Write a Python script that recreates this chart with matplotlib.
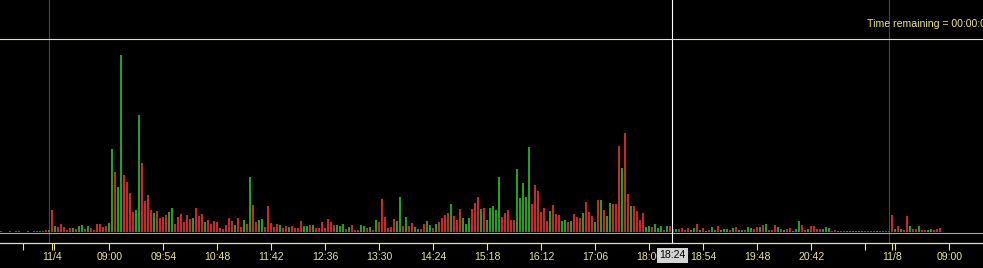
import numpy as np
import matplotlib
matplotlib.use("Agg")
import matplotlib.pyplot as plt
from matplotlib.patches import Rectangle

# 3-minute volume bars (one value per bar, left to right)
volume = [
    1, 0.5, 0.5, 1, 0.5, 1, 1, 0.5, 0, 1,          # 0
    0.5, 1, 1, 1, 1, 2, 2, 22, 6, 5,               # 10
    8, 5, 2, 4, 4, 3, 6, 7, 3, 6,                  # 20
    4, 2, 8, 8, 5, 6, 9, 83, 60, 45,               # 30
    177, 57, 50, 39, 20, 22, 117, 69, 31, 37,      # 40
    22, 19, 21, 14, 15, 17, 20, 24, 8, 15,         # 50
    18, 10, 17, 13, 14, 24, 16, 18, 10, 12,        # 60
    8, 11, 10, 4, 3, 7, 14, 11, 7, 14,             # 70
    5, 12, 8, 55, 27, 10, 12, 13, 5, 26,           # 80
    9, 5, 8, 7, 4, 6, 5, 6, 4, 4,                  # 90
    11, 6, 6, 7, 7, 4, 4, 10, 4, 13,               # 100
    10, 7, 7, 6, 8, 3, 5, 7, 2, 2,                 # 110
    7, 6, 4, 5, 2, 12, 10, 33, 15, 4,              # 120
    5, 13, 11, 35, 6, 15, 6, 9, 5, 3,              # 130
    3, 8, 11, 7, 4, 8, 10, 14, 17, 19,             # 140
    28, 16, 12, 23, 14, 8, 14, 23, 29, 35,         # 150
    23, 24, 12, 24, 26, 22, 55, 15, 19, 22,        # 160
    12, 12, 63, 34, 49, 35, 85, 28, 47, 41,        # 170
    20, 24, 11, 21, 27, 18, 17, 11, 12, 10,        # 180
    11, 18, 15, 14, 19, 30, 20, 16, 10, 32,        # 190
    32, 22, 16, 29, 28, 28, 86, 64, 99, 38,        # 200
    26, 26, 21, 12, 19, 5, 6, 5, 8, 4,             # 210
    6, 2, 6, 6, 3, 3, 3, 4, 2, 4,                  # 220
    2, 4, 8, 2, 4, 1, 2, 5, 2, 6,                  # 230
    2, 3, 3, 2, 4, 5, 2, 2, 2, 5,                  # 240
    4, 3, 5, 5, 7, 8, 2, 2, 7, 5,                  # 250
    3, 2, 3, 4, 1, 3, 11, 7, 2, 3,                 # 260
    6, 6, 3, 3, 3, 5, 4, 1, 2, 1,                  # 270
    1, 1, 1, 1, 1, 1, 1, 1, 1, 1,                  # 280
    1, 1, 1, 1, 1, 1, 1, 17, 3, 6,                 # 290
    3, 2, 16, 6, 3, 3, 6, 2, 2, 2,                 # 300
    3, 2, 3, 4,                                    # 310
]

# u = up bar (green), d = down bar (red)
direction = (
    "d d d d d d d d d d "
    "d d d d d d u d u d "
    "d d d d u d u u d u "
    "d d d d d d u u d u "
    "u d d d d u u d d d "
    "d u d d d d u u d d "
    "d d d d u d d d u d "
    "d d d d d d d d u d "
    "d u d u d d u u d d "
    "d d d u d d u d d d "
    "d u u d u d d d d d "
    "d d u u u d u d d d "
    "u u d u d u d d d d "
    "d d u u d u d d u u "
    "d d u u d u d d d d "
    "u d d d u u u d d d "
    "u d u u u u u d d d "
    "d d u u u u u d d d "
    "d d d u d d d u u d "
    "u d d d u d d d u d "
    "u d u u d d d u d d "
    "u d d d d u u d u u "
    "u d u d d u d d d d "
    "u u d u d u d u u d "
    "u u u d u d u u d u "
    "u d d u d u d d d u "
    "d u d d u u u d d u "
    "d d d d u u u d d u "
    "d d u u u u u u d d "
    "d d u d d d d d u d "
    "u d d u d d u d d u "
    "u d d d"
).split()

assert len(volume) == len(direction)

# time axis (1 unit = 1 minute on the compressed session axis)
tick_labels = ["11/4", "09:00", "09:54", "10:48", "11:42", "12:36", "13:30",
               "14:24", "15:18", "16:12", "17:06", "18:00", "18:54", "19:48",
               "20:42", "11/8", "09:00"]
tick_pos = [51.7, 109.3, 163.3, 217.3, 271.3, 325.3, 379.3, 433.3, 487.3,
            541.3, 595.3, 649.3, 703.3, 757.3, 811.3, 892.3, 949.3]
minor_pos = [22.7, 54.3, 865.3, 895.0]
day_breaks = [49.3, 889.3]
cursor_time = "18:24"
cursor_x = 672.3
cursor_level = 192.7

GREEN = "#22a022"
RED = "#c82828"
YELLOW = "#ece48c"
FONT = "Liberation Sans"
FS = 7.6

W, H = 983, 268
fig = plt.figure(figsize=(W / 100, H / 100), dpi=100, facecolor="black")
ax = fig.add_axes([0, (H - 242.7) / H, 1, 242.7 / H])
ax.set_facecolor("black")

x = 0.7 + 3 * np.arange(len(volume))
colors = [GREEN if d == "u" else RED for d in direction]
ax.bar(x, volume, width=2, color=colors, linewidth=0, zorder=3)

# baseline, day separators and crosshair
ax.axhline(-0.5, color="#a8a8a8", lw=0.8, zorder=2)
for xb in day_breaks:
    ax.axvline(xb, color="#3c4a4a", lw=0.8, zorder=1)
ax.axvline(cursor_x, color="white", lw=0.8, zorder=4)
ax.axhline(cursor_level, color="#e8e2b0", lw=0.8, zorder=4)

ax.set_xlim(0, W)
ax.set_ylim(-10.7, 232)

for side in ["top", "left", "right"]:
    ax.spines[side].set_visible(False)
ax.spines["bottom"].set_color(YELLOW)
ax.spines["bottom"].set_linewidth(0.9)

ax.set_yticks([])
ax.set_xticks(tick_pos)
ax.set_xticklabels(tick_labels, fontfamily=FONT, fontsize=FS, color=YELLOW)
ax.set_xticks(minor_pos, minor=True)
ax.tick_params(axis="x", which="both", direction="out", length=5,
               width=0.8, color=YELLOW, pad=1.5)

ax.text(867, 208, "Time remaining = 00:00:00", color=YELLOW,
        fontfamily=FONT, fontsize=FS, va="center", ha="left")

# highlighted cursor time on the axis
fig.add_artist(Rectangle((656.7 / W, (H - 262.7) / H), 31.6 / W, 14.4 / H,
                         transform=fig.transFigure, facecolor="#d4d4d4",
                         edgecolor="none", zorder=5))
fig.text(672.5 / W, (H - 255.5) / H, cursor_time, color="black",
         fontfamily=FONT, fontsize=FS, ha="center", va="center", zorder=6)

fig.savefig("out.png", dpi=100, facecolor="black")
